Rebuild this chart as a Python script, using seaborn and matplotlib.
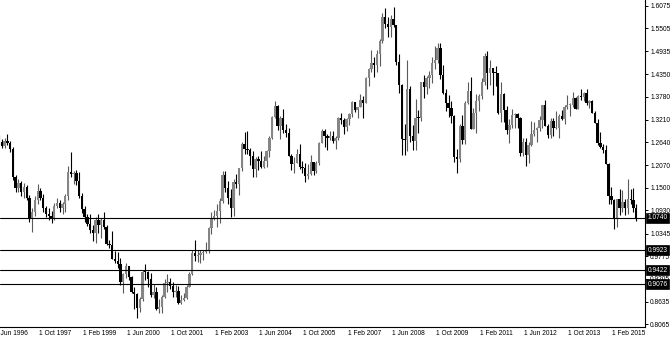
import numpy as np
import pandas as pd
import matplotlib
matplotlib.use("Agg")
import matplotlib.pyplot as plt
import matplotlib.transforms as mtransforms
import seaborn as sns

# ---------------- data (monthly EUR/USD candles, Aug 1996 .. Nov 2015) ----------------
start_month = "1996-08"

opens = [
    1.270, 1.266, 1.256, 1.268, 1.262,
    1.248, 1.176, 1.150, 1.162, 1.138, 1.152, 1.125, 1.072, 1.090, 1.120, 1.142, 1.125,
    1.098, 1.085, 1.080, 1.072, 1.105, 1.112, 1.100, 1.110, 1.128, 1.190, 1.185, 1.188,
    1.167, 1.129, 1.097, 1.0767, 1.058, 1.044, 1.035, 1.069, 1.056, 1.068, 1.052, 1.0085,
    1.007, 0.971, 0.965, 0.957, 0.912, 0.933, 0.953, 0.926, 0.887, 0.883, 0.848, 0.870,
    0.939, 0.938, 0.921, 0.879, 0.887, 0.845, 0.849, 0.876, 0.910, 0.913, 0.903, 0.888,
    0.890, 0.860, 0.868, 0.872, 0.901, 0.933, 0.987, 0.978, 0.980, 0.986, 0.988, 0.993,
    1.049, 1.074, 1.079, 1.091, 1.116, 1.181, 1.150, 1.123, 1.098, 1.165, 1.160, 1.199,
    1.259, 1.247, 1.246, 1.230, 1.196, 1.221, 1.217, 1.203, 1.217, 1.243, 1.276, 1.327,
    1.355, 1.304, 1.324, 1.296, 1.287, 1.229, 1.210, 1.212, 1.234, 1.203, 1.199, 1.179,
    1.184, 1.215, 1.192, 1.212, 1.263, 1.292, 1.279, 1.276, 1.281, 1.268, 1.276, 1.325,
    1.320, 1.302, 1.323, 1.335, 1.365, 1.345, 1.353, 1.370, 1.364, 1.426, 1.449, 1.463,
    1.459, 1.486, 1.518, 1.579, 1.561, 1.555, 1.575, 1.560, 1.467, 1.408, 1.272, 1.271,
    1.397, 1.280, 1.267, 1.325, 1.324, 1.415, 1.403, 1.425, 1.433, 1.464, 1.472, 1.500,
    1.433, 1.387, 1.363, 1.351, 1.329, 1.228, 1.223, 1.305, 1.269, 1.363, 1.393, 1.298,
    1.338, 1.369, 1.380, 1.416, 1.481, 1.439, 1.450, 1.439, 1.438, 1.339, 1.386, 1.345,
    1.296, 1.308, 1.332, 1.334, 1.324, 1.237, 1.266, 1.231, 1.258, 1.286, 1.296, 1.299,
    1.319, 1.358, 1.306, 1.282, 1.317, 1.299, 1.301, 1.330, 1.322, 1.352, 1.358, 1.359,
    1.375, 1.349, 1.380, 1.377, 1.387, 1.363, 1.369, 1.339, 1.313, 1.263, 1.253, 1.245,
    1.210, 1.129, 1.120, 1.073, 1.122, 1.099, 1.115, 1.099, 1.121, 1.118, 1.100,
]
highs = [
    1.282, 1.272, 1.275, 1.284, 1.268,
    1.252, 1.182, 1.172, 1.168, 1.162, 1.158, 1.132, 1.100, 1.128, 1.160, 1.150, 1.135,
    1.105, 1.098, 1.092, 1.112, 1.125, 1.120, 1.115, 1.135, 1.205, 1.240, 1.192, 1.194,
    1.1906, 1.137, 1.103, 1.085, 1.083, 1.056, 1.077, 1.083, 1.073, 1.088, 1.056, 1.018,
    1.041, 0.992, 0.989, 0.974, 0.935, 0.960, 0.953, 0.928, 0.901, 0.886, 0.874, 0.942,
    0.959, 0.940, 0.936, 0.908, 0.900, 0.870, 0.880, 0.921, 0.933, 0.922, 0.913, 0.905,
    0.904, 0.880, 0.886, 0.906, 0.939, 0.994, 1.019, 0.993, 0.994, 0.994, 1.014, 1.051,
    1.088, 1.093, 1.108, 1.123, 1.193, 1.193, 1.166, 1.146, 1.172, 1.185, 1.200, 1.265,
    1.290, 1.293, 1.251, 1.241, 1.228, 1.229, 1.243, 1.229, 1.244, 1.281, 1.330, 1.367,
    1.358, 1.329, 1.348, 1.309, 1.300, 1.235, 1.226, 1.248, 1.259, 1.216, 1.211, 1.209,
    1.232, 1.215, 1.218, 1.264, 1.298, 1.298, 1.286, 1.292, 1.293, 1.280, 1.328, 1.337,
    1.324, 1.326, 1.339, 1.368, 1.365, 1.353, 1.385, 1.380, 1.428, 1.452, 1.497, 1.478,
    1.497, 1.524, 1.590, 1.602, 1.579, 1.584, 1.604, 1.560, 1.487, 1.410, 1.309, 1.472,
    1.405, 1.308, 1.374, 1.345, 1.416, 1.434, 1.430, 1.444, 1.478, 1.506, 1.514, 1.514,
    1.458, 1.399, 1.382, 1.369, 1.332, 1.247, 1.310, 1.333, 1.368, 1.416, 1.428, 1.350,
    1.386, 1.386, 1.425, 1.488, 1.494, 1.470, 1.452, 1.455, 1.439, 1.415, 1.387, 1.355,
    1.323, 1.349, 1.339, 1.338, 1.328, 1.275, 1.275, 1.264, 1.317, 1.314, 1.302, 1.331,
    1.359, 1.371, 1.311, 1.324, 1.324, 1.342, 1.335, 1.345, 1.357, 1.383, 1.362, 1.390,
    1.377, 1.383, 1.397, 1.390, 1.399, 1.370, 1.370, 1.344, 1.322, 1.289, 1.260, 1.257,
    1.211, 1.153, 1.121, 1.122, 1.147, 1.144, 1.121, 1.171, 1.146, 1.150, 1.110,
]
lows = [
    1.258, 1.250, 1.250, 1.258, 1.240,
    1.170, 1.140, 1.140, 1.130, 1.124, 1.120, 1.065, 1.038, 1.080, 1.110, 1.118, 1.090,
    1.076, 1.070, 1.060, 1.068, 1.098, 1.090, 1.085, 1.090, 1.120, 1.178, 1.160, 1.158,
    1.124, 1.086, 1.064, 1.053, 1.036, 1.016, 1.011, 1.037, 1.023, 1.045, 1.007, 0.999,
    0.970, 0.960, 0.948, 0.906, 0.8844, 0.924, 0.917, 0.886, 0.844, 0.8228, 0.838, 0.866,
    0.918, 0.900, 0.874, 0.873, 0.843, 0.835, 0.836, 0.873, 0.889, 0.896, 0.876, 0.876,
    0.858, 0.857, 0.864, 0.870, 0.900, 0.930, 0.965, 0.962, 0.961, 0.968, 0.987, 0.986,
    1.034, 1.069, 1.050, 1.062, 1.112, 1.138, 1.108, 1.076, 1.079, 1.148, 1.131, 1.193,
    1.234, 1.235, 1.208, 1.176, 1.176, 1.195, 1.199, 1.200, 1.201, 1.227, 1.272, 1.324,
    1.296, 1.273, 1.288, 1.277, 1.229, 1.195, 1.187, 1.212, 1.198, 1.187, 1.164, 1.171,
    1.182, 1.183, 1.188, 1.207, 1.262, 1.252, 1.246, 1.271, 1.262, 1.248, 1.271, 1.310,
    1.286, 1.293, 1.307, 1.328, 1.341, 1.326, 1.352, 1.326, 1.363, 1.406, 1.440, 1.429,
    1.440, 1.456, 1.514, 1.551, 1.528, 1.529, 1.554, 1.458, 1.388, 1.233, 1.233, 1.242,
    1.266, 1.245, 1.246, 1.288, 1.317, 1.375, 1.385, 1.401, 1.412, 1.448, 1.463, 1.422,
    1.386, 1.344, 1.327, 1.312, 1.215, 1.188, 1.215, 1.259, 1.259, 1.361, 1.297, 1.297,
    1.287, 1.344, 1.374, 1.409, 1.397, 1.408, 1.384, 1.405, 1.336, 1.315, 1.315, 1.286,
    1.262, 1.300, 1.300, 1.300, 1.229, 1.229, 1.204, 1.213, 1.255, 1.280, 1.266, 1.293,
    1.300, 1.304, 1.275, 1.274, 1.280, 1.298, 1.276, 1.320, 1.310, 1.348, 1.330, 1.354,
    1.349, 1.348, 1.370, 1.367, 1.359, 1.350, 1.337, 1.313, 1.257, 1.250, 1.236, 1.210,
    1.110, 1.110, 1.046, 1.052, 1.082, 1.089, 1.081, 1.085, 1.109, 1.090, 1.067,
]
closes = [
    1.266, 1.256, 1.268, 1.262, 1.248,
    1.176, 1.150, 1.162, 1.138, 1.152, 1.125, 1.072, 1.090, 1.120, 1.142, 1.125, 1.098,
    1.085, 1.080, 1.072, 1.105, 1.112, 1.100, 1.110, 1.128, 1.190, 1.185, 1.188, 1.167,
    1.129, 1.097, 1.0767, 1.058, 1.044, 1.035, 1.069, 1.056, 1.068, 1.052, 1.0085, 1.007,
    0.971, 0.965, 0.957, 0.912, 0.933, 0.953, 0.926, 0.887, 0.883, 0.848, 0.870, 0.939,
    0.938, 0.921, 0.879, 0.887, 0.845, 0.849, 0.876, 0.910, 0.913, 0.903, 0.888, 0.890,
    0.860, 0.868, 0.872, 0.901, 0.933, 0.987, 0.978, 0.980, 0.986, 0.988, 0.993, 1.049,
    1.074, 1.079, 1.091, 1.116, 1.181, 1.150, 1.123, 1.098, 1.165, 1.160, 1.199, 1.259,
    1.247, 1.246, 1.230, 1.196, 1.221, 1.217, 1.203, 1.217, 1.243, 1.276, 1.327, 1.355,
    1.304, 1.324, 1.296, 1.287, 1.229, 1.210, 1.212, 1.234, 1.203, 1.199, 1.179, 1.184,
    1.215, 1.192, 1.212, 1.263, 1.292, 1.279, 1.276, 1.281, 1.268, 1.276, 1.325, 1.320,
    1.302, 1.323, 1.335, 1.365, 1.345, 1.353, 1.370, 1.364, 1.426, 1.449, 1.463, 1.459,
    1.486, 1.518, 1.579, 1.561, 1.555, 1.575, 1.560, 1.467, 1.408, 1.272, 1.271, 1.397,
    1.280, 1.267, 1.325, 1.324, 1.415, 1.403, 1.425, 1.433, 1.464, 1.472, 1.500, 1.433,
    1.387, 1.363, 1.351, 1.329, 1.228, 1.223, 1.305, 1.269, 1.363, 1.393, 1.298, 1.338,
    1.369, 1.380, 1.416, 1.481, 1.439, 1.450, 1.439, 1.438, 1.339, 1.386, 1.345, 1.296,
    1.308, 1.332, 1.334, 1.324, 1.237, 1.266, 1.231, 1.258, 1.286, 1.296, 1.299, 1.319,
    1.358, 1.306, 1.282, 1.317, 1.299, 1.301, 1.330, 1.322, 1.352, 1.358, 1.359, 1.375,
    1.349, 1.380, 1.377, 1.387, 1.363, 1.369, 1.339, 1.313, 1.263, 1.253, 1.245, 1.210,
    1.129, 1.120, 1.073, 1.122, 1.099, 1.115, 1.099, 1.121, 1.118, 1.100, 1.074,
]

level_prices = [1.0740, 0.9923, 0.9422, 0.9076]
y_ticks = [1.6075, 1.5505, 1.4935, 1.4350, 1.3780, 1.3210, 1.2640, 1.2070,
           1.1500, 1.0930, 1.0345, 0.9775, 0.9205, 0.8635, 0.8065]
x_tick_months = ["1996-06", "1997-10", "1999-02", "2000-06", "2001-10", "2003-02",
                 "2004-06", "2005-10", "2007-02", "2008-06", "2009-10", "2011-02",
                 "2012-06", "2013-10", "2015-02"]
x_tick_labels = ["1 Jun 1996", "1 Oct 1997", "1 Feb 1999", "1 Jun 2000", "1 Oct 2001",
                 "1 Feb 2003", "1 Jun 2004", "1 Oct 2005", "1 Feb 2007", "1 Jun 2008",
                 "1 Oct 2009", "1 Feb 2011", "1 Jun 2012", "1 Oct 2013", "1 Feb 2015"]

# ---------------- frame ----------------
periods = pd.period_range(start_month, periods=len(closes), freq="M")
base = pd.Period("1996-06", freq="M")
df = pd.DataFrame({"open": opens, "high": highs, "low": lows, "close": closes})
df["x"] = [(p - base).n for p in periods]
tick_x = [(pd.Period(s, freq="M") - base).n for s in x_tick_months]

# ---------------- style ----------------
sns.set_theme(style="white")
plt.rcParams["font.family"] = ["Liberation Sans", "DejaVu Sans"]
plt.rcParams["axes.linewidth"] = 0.8
FS = 4.8

W, H = 672, 337
fig = plt.figure(figsize=(W / 100, H / 100), dpi=100)
ax_right_px, ax_bottom_px = 645, 327
ax = fig.add_axes([0, (H - ax_bottom_px) / H, ax_right_px / W, ax_bottom_px / H])
fig.patch.set_facecolor("white")
ax.set_facecolor("white")

# ---------------- candles ----------------
up = df["close"] >= df["open"]
body_lo = np.minimum(df["open"], df["close"])
body_h = (df["close"] - df["open"]).abs().clip(lower=0.0025)
ax.vlines(df["x"], df["low"], df["high"],
          colors=np.where(up, "#5a5a5a", "#000000"), lw=0.8, zorder=2)
ax.bar(df["x"], body_h, bottom=body_lo, width=0.86,
       color=np.where(up, "#858585", "#000000"), linewidth=0, zorder=3)

# ---------------- horizontal levels ----------------
for lv in level_prices:
    ax.axhline(lv, color="black", lw=0.8, zorder=4)

# ---------------- axes scaling (px mapping) ----------------
px_per_month = 2.758
x0_px = -6.4              # pixel of month 0 (Jun 1996)
ax.set_xlim((0 - x0_px) / px_per_month, (ax_right_px - x0_px) / px_per_month)
px_per_unit = 397.8
y_ref_px = 5.7            # pixel of 1.6075
ax.set_ylim(1.6075 - (ax_bottom_px - y_ref_px) / px_per_unit,
            1.6075 + y_ref_px / px_per_unit)

# spines
for s in ["top", "left"]:
    ax.spines[s].set_visible(False)
for s in ["right", "bottom"]:
    ax.spines[s].set_color("black")
    ax.spines[s].set_linewidth(0.8)

# y ticks on the right
ax.yaxis.tick_right()
ax.set_yticks(y_ticks)
ax.set_yticklabels([f"{v:.4f}" for v in y_ticks])
ax.tick_params(axis="y", which="major", length=2.3, width=0.7, pad=1.4,
               labelsize=FS, colors="black", direction="out")

# x ticks
xl = ax.get_xlim()
ax.set_xticks([t for t in tick_x if xl[0] <= t <= xl[1]])
ax.tick_params(axis="x", which="major", length=2.5, width=0.7, direction="out",
               labelbottom=False, colors="black")
trans_x = mtransforms.blended_transform_factory(ax.transData, ax.transAxes)
trans_x = mtransforms.offset_copy(trans_x, fig=fig, x=1.0, y=-2.6, units="dots")
for t, lab in zip(tick_x, x_tick_labels):
    ax.text(t, 0, lab, transform=trans_x, ha="left", va="top",
            fontsize=FS, color="black", clip_on=False)

# level price boxes
trans_y = mtransforms.blended_transform_factory(ax.transAxes, ax.transData)
for lv in level_prices:
    ax.text(1.0045, lv, f"{lv:.4f}", transform=trans_y, ha="left", va="center",
            fontsize=FS, color="white", clip_on=False, zorder=6,
            bbox=dict(boxstyle="square,pad=0.22", fc="black", ec="black", lw=0.5))

ax.grid(False)
fig.savefig("out.png", dpi=100, facecolor="white")
